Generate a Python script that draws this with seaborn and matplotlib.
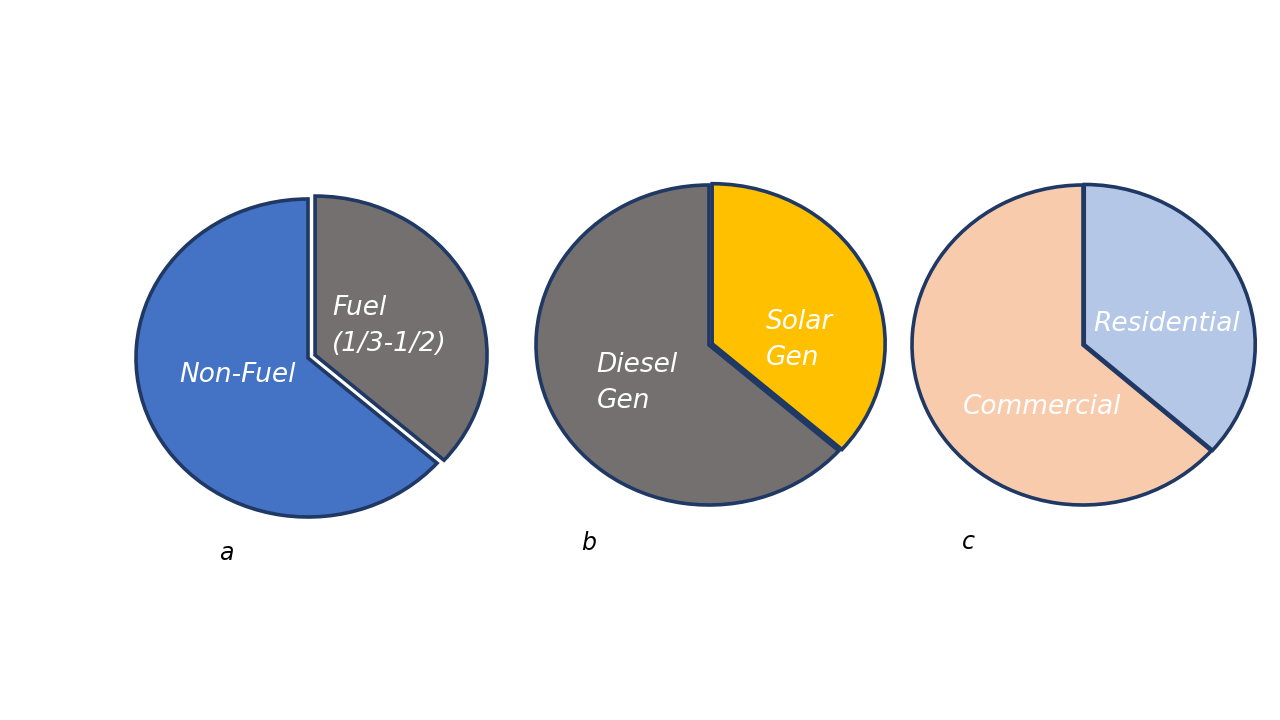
import matplotlib
matplotlib.use("Agg")
import matplotlib.pyplot as plt
import seaborn as sns

sns.set_theme(style="white")
plt.rcParams['font.family'] = ['DejaVu Sans']

# Data
pie_a_labels = ["Fuel\n(1/3-1/2)", "Non-Fuel"]
pie_a_values = [36.5, 63.5]
pie_b_labels = ["Solar\nGen", "Diesel\nGen"]
pie_b_values = [36.5, 63.5]
pie_c_labels = ["Residential", "Commercial"]
pie_c_values = [36.5, 63.5]
panel_letters = ["a", "b", "c"]

colors_a = ["#757070", "#4472C4"]
colors_b = ["#FFC000", "#757070"]
colors_c = ["#B4C7E7", "#F8CBAD"]
edge = "#1F3864"

W, H = 1280, 720
fig = plt.figure(figsize=(12.8, 7.2), dpi=100)
fig.patch.set_facecolor("white")

specs = [
    (308, 358, 172, 159, pie_a_values, pie_a_labels, colors_a, [0.045, 0.0],
     [(0.14, 0.20, 'left'), (-0.41, -0.11, 'center')]),
    (709, 345, 173, 160, pie_b_values, pie_b_labels, colors_b, [0.02, 0.0],
     [(0.33, 0.03, 'left'), (-0.65, -0.24, 'left')]),
    (1083, 345, 171, 160, pie_c_values, pie_c_labels, colors_c, [0.008, 0.0],
     [(0.49, 0.13, 'center'), (-0.24, -0.39, 'center')]),
]
letter_pos = [(226, 553), (589, 543), (968, 542)]

M = 1.15
for (cx, cy, rx, ry, vals, labs, cols, expl, lpos), letter, (lx, ly) in zip(specs, panel_letters, letter_pos):
    w = 2 * M * rx
    h = 2 * M * ry
    ax = fig.add_axes([(cx - w / 2) / W, (H - cy - h / 2) / H, w / W, h / H])
    wedges, _ = ax.pie(vals, colors=cols, startangle=90, counterclock=False,
                       explode=expl,
                       wedgeprops=dict(edgecolor=edge, linewidth=2.6))
    ax.set_aspect('auto')
    ax.set_xlim(-M, M)
    ax.set_ylim(-M, M)
    ax.axis('off')
    for (tx, ty, ha), lab in zip(lpos, labs):
        ax.text(tx, ty, lab, color="white", fontsize=19, fontstyle='italic',
                ha=ha, va='center', linespacing=1.5)
    fig.text(lx / W, 1 - ly / H, letter, fontsize=17, fontstyle='italic',
             color="black", ha='center', va='center')

fig.savefig("out.png", dpi=100, facecolor="white")
